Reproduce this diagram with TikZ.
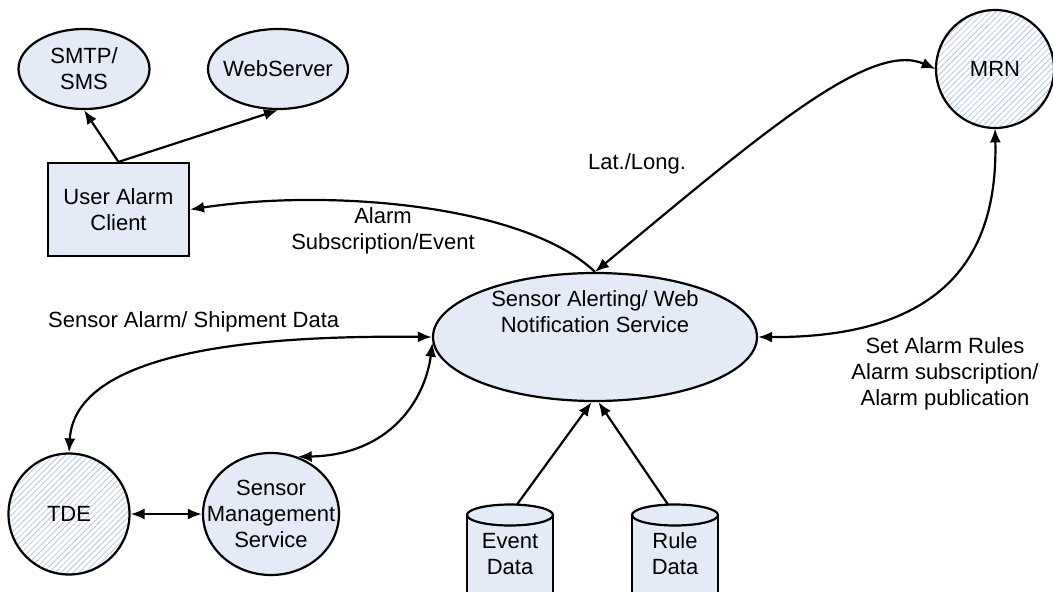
\documentclass[tikz,border=0pt]{standalone}
\usepackage{fontspec}
\setmainfont{Liberation Sans}
\usetikzlibrary{shapes.geometric,arrows.meta,patterns.meta}
\definecolor{fillc}{RGB}{228,235,246}
\definecolor{hatchc}{RGB}{182,200,232}
\begin{document}
\begin{tikzpicture}[x=1pt,y=-1pt,
  lbl/.style={font=\fontsize{22}{26}\selectfont, align=center, inner sep=0pt},
  ell/.style={draw, line width=2.2pt, fill=fillc, ellipse, inner sep=0pt},
  hatch/.style={draw, line width=2.2pt, circle, inner sep=0pt, lbl,
    preaction={fill=white},
    pattern={Lines[angle=45,distance=4.2pt,line width=0.8pt]}, pattern color=hatchc},
  conn/.style={line width=2.2pt},
  >={Latex[length=14pt,width=11pt]}
]
\useasboundingbox (0,0) rectangle (1053,592);

% nodes
\node[ell, minimum width=131, minimum height=80] (smtp) at (84,69) {};
\node[lbl] (smtpt) at (smtp) {SMTP/\\SMS};
\node[ell, minimum width=140, minimum height=80] (web) at (278,69) {};
\node[lbl] (webt) at (web) {WebServer};
\node[draw, line width=2.2pt, fill=fillc, minimum width=141, minimum height=93, lbl] (uac) at (118.5,209.5) {User Alarm\\Client};
\node[hatch, minimum size=118] (mrn) at (995,69) {MRN};
\node[hatch, minimum size=121] (tde) at (69,514) {TDE};
\node[ell, minimum width=136, minimum height=122] (sms) at (271,514) {};
\node[lbl] (smst) at (sms) {Sensor\\Management\\Service};
\node[ell, minimum width=324, minimum height=128] (sa) at (595,337) {};
\node[lbl] (satext) at (595,312) {Sensor Alerting/ Web\\Notification Service};

% cylinders
\path[fill=fillc] (467,515) rectangle (553,600);
\draw[conn] (467,515) -- (467,600) (553,515) -- (553,600);
\draw[conn, fill=fillc] (510,515) ellipse [x radius=43, y radius=10.5];
\node[lbl] (evt) at (510,554) {Event\\Data};
\coordinate (evtop) at (517,504.5);

\path[fill=fillc] (632,515) rectangle (718,600);
\draw[conn] (632,515) -- (632,600) (718,515) -- (718,600);
\draw[conn, fill=fillc] (675,515) ellipse [x radius=43, y radius=10.5];
\node[lbl] (rul) at (675,554) {Rule\\Data};
\coordinate (rutop) at (668,504.5);

% connectors
\draw[conn,->] (uac.north) -- (smtp.south);
\draw[conn,->] (uac.north) -- (web.south);
\draw[conn,->] (sa.north) .. controls (525,205) and (330,188) .. (uac.east);
\draw[conn,<->] (sa.north) .. controls (760,135) and (870,40) .. (mrn.west);
\draw[conn,<->] (sa.east) .. controls (950,338) and (998,250) .. (mrn.south);
\draw[conn,<->] (sa.west) .. controls (260,335) and (75,350) .. (tde.north);
\draw[conn,<->] (sms.65) .. controls (390,455) and (425,400) .. (sa.182);
\draw[conn,<->] (tde) -- (sms);
\draw[conn,->] (evtop) -- (sa.-93);
\draw[conn,->] (rutop) -- (sa.-87);

% labels
\node[lbl, anchor=west] (l1) at (48,322) {Sensor Alarm/ Shipment Data};
\node[lbl] (l2) at (383,231) {Alarm\\Subscription/Event};
\node[lbl] (l3) at (637,164) {Lat./Long.};
\node[lbl] (l4) at (945,374) {Set Alarm Rules\\Alarm subscription/\\Alarm publication};
\end{tikzpicture}
\end{document}
